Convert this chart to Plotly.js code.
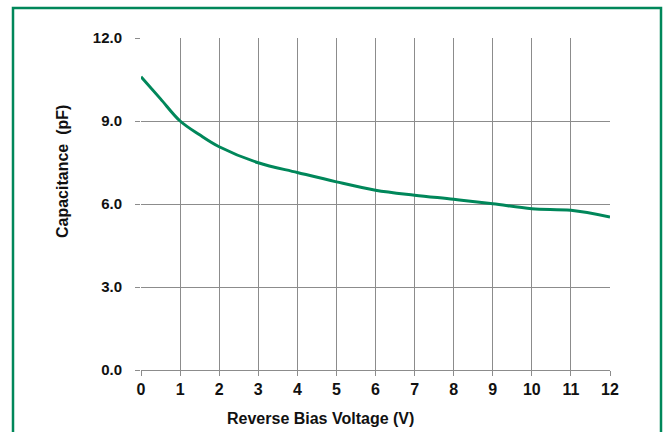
<!DOCTYPE html>
<html>
<head>
<meta charset="utf-8">
<script src="https://cdn.plot.ly/plotly-3.0.1.min.js"></script>
<style>html,body{margin:0;padding:0;background:#fff;}#chart{width:665px;height:432px;}</style>
</head>
<body>
<div id="chart"></div>
<script>
const voltage = [0, 0.5, 1, 1.5, 2, 3, 4, 5, 6, 7, 8, 9, 10, 11, 12];
const capacitance = [10.6, 9.8, 9.0, 8.5, 8.07, 7.49, 7.14, 6.8, 6.5, 6.32, 6.17, 6.01, 5.83, 5.77, 5.53];
const xTicks = [0,1,2,3,4,5,6,7,8,9,10,11,12];
const yTicks = [0, 3, 6, 9, 12];
const yTickText = ["0.0", "3.0", "6.0", "9.0", "12.0"];
const xTitle = "Reverse Bias Voltage (V)";
const yTitle = "Capacitance  (pF)";

const green = "#00875a";
const yTickFont = {family: "Liberation Sans, Arial, sans-serif", size: 15, color: "#111", weight: "bold"};
const xTickFont = {family: "Liberation Sans, Arial, sans-serif", size: 16, color: "#111", weight: "bold"};
const titleFont = {family: "Liberation Sans, Arial, sans-serif", size: 16, color: "#111", weight: "bold"};

const trace = {
  x: voltage, y: capacitance, type: "scatter", mode: "lines",
  line: {color: green, width: 3, shape: "spline", smoothing: 1},
  hoverinfo: "skip"
};

const layout = {
  width: 665, height: 432,
  margin: {l: 141, r: 55, t: 38, b: 62},
  paper_bgcolor: "#fff", plot_bgcolor: "#fff",
  showlegend: false,
  font: yTickFont,
  xaxis: {
    range: [0, 12], tickvals: xTicks, ticktext: xTicks.map(String),
    showgrid: true, gridcolor: "#8c8c8c", gridwidth: 1,
    zeroline: false, showline: true, linecolor: "#8c8c8c", linewidth: 1,
    ticks: "outside", ticklen: 5, tickcolor: "#8c8c8c",
    tickfont: xTickFont, fixedrange: true
  },
  yaxis: {
    range: [0, 12], tickvals: yTicks, ticktext: yTickText,
    showgrid: true, gridcolor: "#8c8c8c", gridwidth: 1,
    zeroline: false, showline: false,
    ticks: "outside", ticklen: 5, tickcolor: "#8c8c8c",
    ticklabelstandoff: 10,
    tickfont: yTickFont, fixedrange: true
  },
  annotations: [
    {text: xTitle, xref: "paper", yref: "paper", x: (320-141)/469, y: (370-418)/332,
     xanchor: "center", yanchor: "middle", showarrow: false, font: titleFont},
    {text: yTitle, xref: "paper", yref: "paper", x: (62-141)/469, y: (370-172)/332,
     xanchor: "center", yanchor: "middle", showarrow: false, textangle: -90, font: titleFont}
  ],
  shapes: [
    {type: "rect", xref: "paper", yref: "paper",
     x0: (13-141)/469, x1: (661-141)/469, y0: (370-445)/332, y1: (370-8)/332,
     line: {color: green, width: 2.5}, fillcolor: "rgba(0,0,0,0)", layer: "below"}
  ]
};

Plotly.newPlot("chart", [trace], layout, {displayModeBar: false, staticPlot: true});
</script>
</body>
</html>
